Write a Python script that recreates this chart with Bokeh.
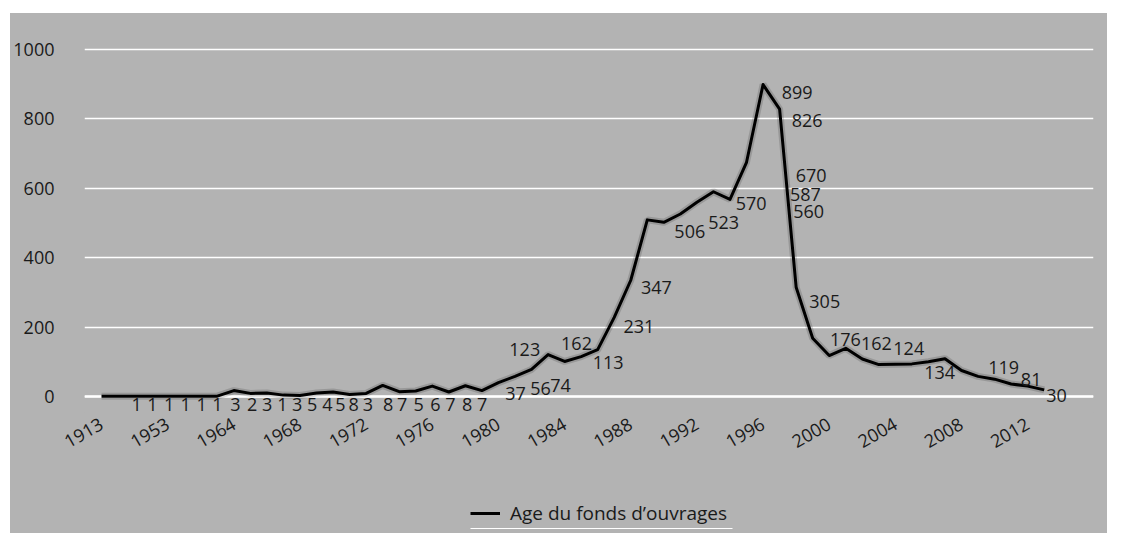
from bokeh.plotting import figure
from bokeh.layouts import column
from bokeh.models import Range1d, FixedTicker, Span, Legend, LegendItem, BoxAnnotation
from bokeh.core.properties import value
from bokeh.embed import file_html
from bokeh.resources import INLINE

# ---- data -------------------------------------------------------------
years = ["1913", "1920", "1935", "1950", "1953", "1955", "1958", "1961"] + \
        [str(y) for y in range(1964, 2014)]

counts = [1, 1, 1, 1, 1, 1, 1, 1,
          17, 9, 10, 4, 3, 10, 13, 6, 9, 32, 14, 16, 30, 13, 31, 17, 40,
          58, 78, 121, 101, 115, 135, 228, 335, 509, 502, 526, 560, 590, 568, 675, 899, 828,
          315, 168, 118, 139, 108, 92, 93, 94, 100, 109, 75, 58, 50, 36, 30, 19]

# data labels: text, anchor (category index) and anchor value
label_text = ["1", "1", "1", "1", "1", "1", "3", "2", "3", "1", "3", "5", "4", "5", "8", "3",
              "8", "7", "5", "6", "7", "8", "7",
              "37", "56", "74", "123", "162", "113", "231", "347", "506", "523", "570",
              "899", "826", "670", "587", "560", "305", "176", "162", "124", "134", "119", "81", "30"]
label_idx = [2.12, 3.08, 4.09, 5.08, 6.05, 7.01, 8.10, 9.11, 10.02, 10.93, 11.83, 12.74, 13.65, 14.45,
             15.25, 16.10, 17.33, 18.18, 19.18, 20.19, 21.10, 22.11, 23.02,
             25.03, 26.54, 27.75, 25.59, 28.72, 30.63, 32.49, 33.55, 35.57, 37.62, 39.28,
             42.06, 42.67, 42.91, 42.56, 42.76, 43.73, 44.98, 46.85, 48.81, 50.68, 54.55, 56.21, 57.74]
label_val = [-22] * 23 + \
            [8, 22, 32, 135, 154, 99, 202, 315, 475, 502, 557,
             875, 795, 637, 582, 533, 275, 163, 152, 137, 70, 84, 48, 3]

y_ticks = [0, 200, 400, 600, 800, 1000]
series_name = "Age du fonds d\u2019ouvrages"

# ---- style ------------------------------------------------------------
GRAY = "#b3b3b3"
INK = "#1a1a1a"
FONT = "Open Sans"
FS = "18px"

idx = list(range(len(years)))
tick_idx = list(range(0, len(years), 4))

p = figure(width=1097, height=477, output_backend="svg", toolbar_location=None,
           x_range=Range1d(-1.03, 59.98), y_range=Range1d(-46.1, 1103.7),
           min_border_left=74, min_border_right=14, min_border_top=0, min_border_bottom=78,
           background_fill_alpha=0, border_fill_color=GRAY, outline_line_color=None)

# y axis
p.yaxis.ticker = FixedTicker(ticks=y_ticks)
p.yaxis.axis_line_color = None
p.yaxis.major_tick_line_color = None
p.yaxis.minor_tick_line_color = None
p.yaxis.major_label_standoff = 24
p.yaxis.major_label_text_font = FONT
p.yaxis.major_label_text_font_size = FS
p.yaxis.major_label_text_color = INK

# x axis
p.xaxis.ticker = FixedTicker(ticks=tick_idx)
p.xaxis.major_label_overrides = {i: years[i] for i in tick_idx}
p.xaxis.major_label_orientation = 0.52
p.xaxis.axis_line_color = None
p.xaxis.major_tick_line_color = None
p.xaxis.minor_tick_line_color = None
p.xaxis.major_label_standoff = 4
p.xaxis.major_label_text_font = FONT
p.xaxis.major_label_text_font_size = FS
p.xaxis.major_label_text_color = INK

p.xgrid.visible = False
p.ygrid.grid_line_color = "white"
p.ygrid.grid_line_width = 1.5

p.add_layout(Span(location=0, dimension="width", line_color="white", line_width=2.5, level="underlay"))

# soft shadow + line
p.line(idx, counts, line_color="black", line_alpha=0.15, line_width=7)
main = p.line(idx, counts, line_color="black", line_width=3, line_join="round")

p.text(x=label_idx, y=label_val, text=label_text, text_font=value(FONT), text_font_size=FS,
       text_color=INK, text_align="center", text_baseline="middle")

# ---- legend strip (below the chart); x in page pixels of the frame ------
p2 = figure(width=1097, height=43, output_backend="svg", toolbar_location=None,
            x_range=Range1d(84, 1093), y_range=Range1d(0, 43),
            min_border=0, background_fill_alpha=0, border_fill_color=GRAY,
            outline_line_color=None)
p2.axis.visible = False
p2.grid.visible = False
# legend key only (kept outside the strip's visible range)
key = p2.line(x=[0], y=[-100], line_color="black", line_width=3)

legend = Legend(items=[LegendItem(label=series_name, renderers=[key])],
                location=(386, 7), orientation="horizontal",
                background_fill_alpha=0, border_line_color=None, padding=0, margin=0, spacing=0,
                glyph_width=30, glyph_height=20, label_height=20,
                label_standoff=10, label_text_font=FONT,
                label_text_font_size="19px", label_text_color=INK)
p2.add_layout(legend)
p2.add_layout(BoxAnnotation(left=470, right=732, bottom=4.4, top=5.6,
                            fill_color="white", fill_alpha=1, line_color=None))

layout = column(p, p2, spacing=0)
layout.margin = (13, 22, 0, 10)
layout.background = GRAY

open("out.html", "w").write(file_html(layout, INLINE))
